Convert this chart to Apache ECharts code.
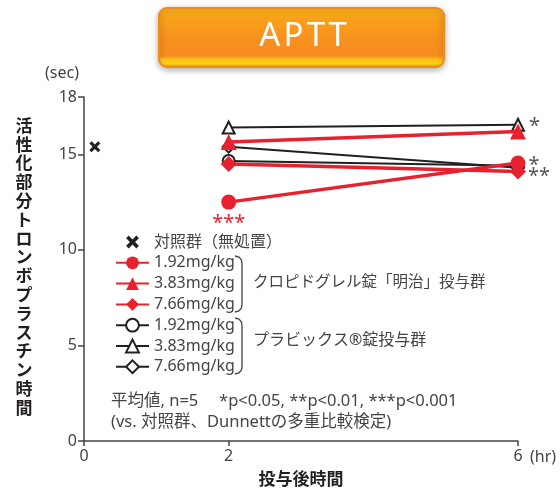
<!DOCTYPE html>
<html>
<head>
<meta charset="utf-8">
<script src="https://cdn.jsdelivr.net/npm/echarts@6/dist/echarts.min.js"></script>
<style>
  html, body { margin: 0; padding: 0; background: #fff; }
  #chart { width: 560px; height: 488px; }
</style>
</head>
<body>
<div id="chart"></div>
<script>
// hours after dosing
const hours = [2, 6]
const xTicks = [0, 2, 6]
const yTicks = [0, 5, 10, 15, 18]

// control (untreated), plotted just right of 0
const control = [[0.15, 15.4]]

// クロピドグレル錠「明治」
const clopi192 = [12.5, 14.55]
const clopi383 = [15.65, 16.2]
const clopi766 = [14.5, 14.1]
// プラビックス錠
const plavix192 = [14.65, 14.4]
const plavix383 = [16.4, 16.55]
const plavix766 = [15.4, 14.3]

// significance marks per point
const clopi192Sig = ['***', '*']
const clopi766Sig = ['', '**']
const plavix383Sig = ['', '*']

const RED = '#e8212e'
const BLACK = '#231f20'
const FONT = 'Noto Sans, Noto Sans CJK JP, sans-serif'
const CROSS = 'path://M0,2 L2,0 L5,3 L8,0 L10,2 L7,5 L10,8 L8,10 L5,7 L2,10 L0,8 L3,5 Z'

const labelText = {
  control: '対照群（無処置）',
  c192: '1.92mg/kg', c383: '3.83mg/kg', c766: '7.66mg/kg',
  p192: '1.92mg/kg', p383: '3.83mg/kg', p766: '7.66mg/kg'
}

function points(vals, sig, offsetY, dist) {
  return hours.map((h, i) => {
    const item = { value: [h, vals[i]] }
    if (sig && sig[i]) {
      item.label = {
        show: true,
        formatter: sig[i],
        position: 'right',
        distance: dist || 3,
        offset: [0, offsetY || 0],
        color: '#555',
        fontSize: 20,
        fontFamily: FONT
      }
    }
    return item
  })
}

function redSeries(name, vals, symbol, size, data) {
  return {
    name: name, type: 'line', symbol: symbol, symbolSize: size,
    data: data || points(vals),
    itemStyle: { color: RED },
    lineStyle: { color: RED, width: 3.5 },
    z: 5, animation: false
  }
}
function blackSeries(name, vals, symbol, data) {
  return {
    name: name, type: 'line', symbol: symbol, symbolSize: 12,
    data: data || points(vals),
    itemStyle: { color: BLACK, borderWidth: 2 },
    lineStyle: { color: BLACK, width: 2 },
    z: 3, animation: false
  }
}

function bracket(top, bottom) {
  return {
    type: 'polyline', silent: true,
    shape: { points: [[235, top], [239, top + 1], [241.5, top + 4], [242, top + 8],
      [242, bottom - 8], [241.5, bottom - 4], [239, bottom - 1], [235, bottom]] },
    style: { fill: null, stroke: '#444', lineWidth: 1.3 }
  }
}

const c192Data = points(clopi192, clopi192Sig, 2, 3)
c192Data[0].label.position = 'bottom'
c192Data[0].label.distance = 0
c192Data[0].label.offset = [0, 4]
c192Data[0].label.color = RED
const c766Data = points(clopi766, clopi766Sig, 5, 2)
const p383Data = points(plavix383, plavix383Sig, 2, 4)

const myChart = echarts.init(document.getElementById('chart'))
myChart.setOption({
  animation: false,
  textStyle: { fontFamily: FONT },
  grid: { left: 84, right: 42, top: 97, bottom: 47, containLabel: false, outerBoundsMode: 'none' },
  xAxis: {
    type: 'value', min: 0, max: 6,
    name: '投与後時間', nameLocation: 'middle', nameGap: 31,
    nameTextStyle: { fontSize: 17, fontWeight: 'bold', color: '#231f20', fontFamily: FONT },
    axisLine: { lineStyle: { color: '#444', width: 1.5 } },
    axisTick: { show: true, length: 5, customValues: xTicks, lineStyle: { color: '#444', width: 1.5 } },
    axisLabel: { customValues: xTicks, color: '#444', fontSize: 16, margin: 7 },
    splitLine: { show: false }
  },
  yAxis: {
    type: 'value', min: 0, max: 18,
    axisLine: { show: true, lineStyle: { color: '#444', width: 1.5 } },
    axisTick: { show: true, length: 6, customValues: yTicks, lineStyle: { color: '#444', width: 1.5 } },
    axisLabel: { customValues: yTicks, color: '#444', fontSize: 16, margin: 7 },
    splitLine: { show: false }
  },
  legend: {
    orient: 'vertical', left: 110, top: 227,
    itemWidth: 33, itemHeight: 16, itemGap: 0.8,
    textStyle: { fontSize: 16, color: '#444', lineHeight: 20, fontFamily: FONT },
    formatter: name => labelText[name],
    data: [
      { name: 'control', lineStyle: { opacity: 0 } },
      'c192', 'c383', 'c766', 'p192', 'p383', 'p766'
    ]
  },
  series: [
    blackSeries('p192', plavix192, 'emptyCircle'),
    blackSeries('p383', plavix383, 'emptyTriangle', p383Data),
    blackSeries('p766', plavix766, 'emptyDiamond'),
    redSeries('c192', clopi192, 'circle', 15, c192Data),
    redSeries('c383', clopi383, 'triangle', 16),
    redSeries('c766', clopi766, 'diamond', 16, c766Data),
    {
      name: 'control', type: 'line', symbol: CROSS, symbolSize: 11,
      data: control,
      itemStyle: { color: BLACK },
      lineStyle: { width: 0, opacity: 0 },
      z: 6, animation: false
    }
  ],
  graphic: [
    {
      type: 'rect', left: 158, top: 7, z: 10,
      shape: { width: 285, height: 59, r: 8 },
      style: {
        fill: new echarts.graphic.LinearGradient(0, 0, 0, 1, [
          { offset: 0, color: '#fbb817' },
          { offset: 0.2, color: '#f9a01b' },
          { offset: 0.55, color: '#f7901e' },
          { offset: 0.8, color: '#f68c1f' },
          { offset: 0.86, color: '#fbc216' },
          { offset: 0.93, color: '#fdd60f' },
          { offset: 1, color: '#f38a20' }
        ]),
        stroke: '#f08a1c', lineWidth: 2,
        shadowBlur: 6, shadowColor: 'rgba(0,0,0,0.3)', shadowOffsetY: 2
      }
    },
    {
      type: 'text', x: 303, y: 37, z: 11,
      style: { text: 'A\u200aP\u200aT\u200aT', fill: '#fff', fontSize: 33, fontFamily: FONT,
        align: 'center', verticalAlign: 'middle' }
    },
    {
      type: 'text', x: 62, y: 73,
      style: { text: '(sec)', fill: '#444', fontSize: 16, fontFamily: FONT,
        align: 'center', verticalAlign: 'middle' }
    },
    {
      type: 'text', x: 530, y: 457,
      style: { text: '(hr)', fill: '#444', fontSize: 16, fontFamily: FONT, verticalAlign: 'middle' }
    },
    {
      type: 'text', x: 24, y: 268,
      style: {
        text: '活性化部分トロンボプラスチン時間'.split('').join('\n'),
        fill: '#231f20', fontSize: 17, fontWeight: 'bold', lineHeight: 18.8,
        align: 'center', verticalAlign: 'middle', fontFamily: FONT
      }
    },
    bracket(256, 312),
    bracket(318, 374),
    {
      type: 'text', x: 253, y: 283,
      style: { text: 'クロピドグレル錠「明治」投与群', fill: '#444', fontSize: 15.5, fontFamily: FONT,
        verticalAlign: 'middle' }
    },
    {
      type: 'text', x: 253, y: 340,
      style: { text: 'プラビックス®錠投与群', fill: '#444', fontSize: 16, fontFamily: FONT,
        verticalAlign: 'middle' }
    },
    {
      type: 'text', x: 111, y: 401,
      style: { text: '平均値, n=5　 *p<0.05, **p<0.01, ***p<0.001', fill: '#444', fontSize: 16.5, fontFamily: FONT,
        verticalAlign: 'middle' }
    },
    {
      type: 'text', x: 111, y: 422,
      style: { text: '(vs. 対照群、Dunnettの多重比較検定)', fill: '#444', fontSize: 16.5, fontFamily: FONT,
        verticalAlign: 'middle' }
    }
  ]
})
</script>
</body>
</html>
